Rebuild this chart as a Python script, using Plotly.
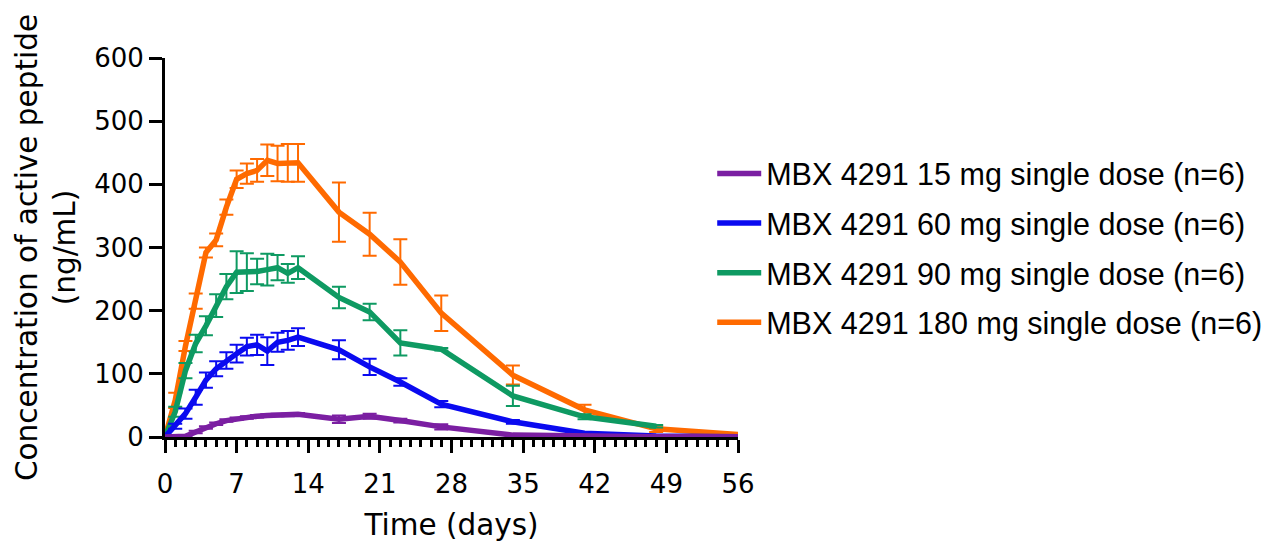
import plotly.graph_objects as go

days = [0, 1, 2, 3, 4, 5, 6, 7, 8, 9, 10, 11, 12, 13, 17, 20, 23, 27, 34, 41, 48, 56]
days_90 = [0, 1, 2, 3, 4, 5, 6, 7, 8, 9, 10, 11, 12, 13, 17, 20, 23, 27, 34, 41, 48]

mean_15 = [0, 0, 1, 8, 15, 21, 26, 29, 31, 33, 34, 35, 35, 36, 28, 33, 26, 16, 3, 1, 0.5, 0.5]
err_15 = [0, 0, 1, 2, 2, 2, 2, 2, 2, 2, 2, 2, 2, 2, 6, 4, 3, 4, 1, 1, 0, 0]

mean_60 = [0, 17, 37, 63, 90, 108, 121, 132, 143, 146, 136, 150, 153, 158, 138, 111, 87, 52, 24, 6, 1.5, 0.5]
err_60 = [0, 4, 8, 12, 12, 12, 13, 14, 14, 16, 22, 15, 15, 14, 15, 13, 6, 5, 3, 1, 0, 0]

mean_90 = [0, 40, 105, 148, 176, 208, 238, 261, 261, 262, 265, 268, 259, 268, 221, 198, 149, 139, 65, 32, 17]
err_90 = [0, 8, 12, 14, 15, 18, 20, 33, 30, 20, 25, 20, 15, 18, 17, 13, 20, 2, 16, 4, 2]

mean_180 = [0, 58, 144, 215, 292, 312, 364, 408, 417, 422, 438, 433, 434, 434, 356, 321, 277, 196, 98, 43, 13, 4]
err_180 = [0, 12, 8, 12, 8, 10, 12, 14, 16, 18, 25, 28, 30, 30, 47, 34, 36, 28, 15, 8, 5, 1]

labels = [
    "MBX 4291 15 mg single dose (n=6)",
    "MBX 4291 60 mg single dose (n=6)",
    "MBX 4291 90 mg single dose (n=6)",
    "MBX 4291 180 mg single dose (n=6)",
]
colors = ["#7B1FA2", "#0A0AF0", "#0E9A62", "#FF6A00"]

x_ticks = [0, 7, 14, 21, 28, 35, 42, 49, 56]
y_ticks = [0, 100, 200, 300, 400, 500, 600]

series = [
    (days, mean_15, err_15),
    (days, mean_60, err_60),
    (days_90, mean_90, err_90),
    (days, mean_180, err_180),
]

fig = go.Figure()
# draw highest dose first so the lowest dose sits on top (as in reference)
for i in [3, 2, 1, 0]:
    xs, ys, es = series[i]
    fig.add_trace(go.Scatter(
        x=xs, y=ys, mode="lines", name=labels[i],
        line=dict(color=colors[i], width=5.5),
        error_y=dict(type="data", array=es, visible=True, color=colors[i],
                     thickness=2, width=7),
        legendgroup=f"g{i}", legendrank=i + 1, cliponaxis=False,
    ))

tick_font = dict(family="DejaVu Sans", size=26, color="black")
title_font = dict(family="DejaVu Sans", size=29.5, color="black")

fig.update_layout(
    width=1279, height=552,
    margin=dict(l=165, r=539, t=58, b=115, pad=0),
    paper_bgcolor="white", plot_bgcolor="white",
    showlegend=True,
    legend=dict(
        x=0.955, xanchor="left", y=0.765, yanchor="top",
        font=dict(family="Liberation Sans, Arial", size=30.5, color="black"),
        tracegroupgap=7, itemwidth=44, bgcolor="rgba(0,0,0,0)",
    ),
    xaxis=dict(
        range=[0, 56], tickmode="array", tickvals=x_ticks,
        ticktext=[str(v) for v in x_ticks],
        ticks="outside", ticklen=13, tickwidth=3, tickcolor="black",
        showline=True, linewidth=3, linecolor="black",
        showgrid=False, zeroline=False,
        minor=dict(dtick=1, tick0=0, ticks="outside", ticklen=7, tickwidth=2.5,
                   tickcolor="black", showgrid=False),
        tickfont=tick_font, ticklabelstandoff=9,
        title=dict(text="Time (days)", font=title_font, standoff=17),
    ),
    yaxis=dict(
        range=[0, 600], tickmode="array", tickvals=y_ticks,
        ticktext=[str(v) for v in y_ticks],
        ticks="outside", ticklen=13, tickwidth=3, tickcolor="black",
        showline=True, linewidth=3, linecolor="black",
        showgrid=False, zeroline=False,
        tickfont=tick_font,
        title=dict(text="Concentration of active peptide<br>(ng/mL)", font=title_font, standoff=10),
    ),
)

fig.write_html("out.html", config={"displayModeBar": False},
               post_script="document.body.style.margin='0';")
